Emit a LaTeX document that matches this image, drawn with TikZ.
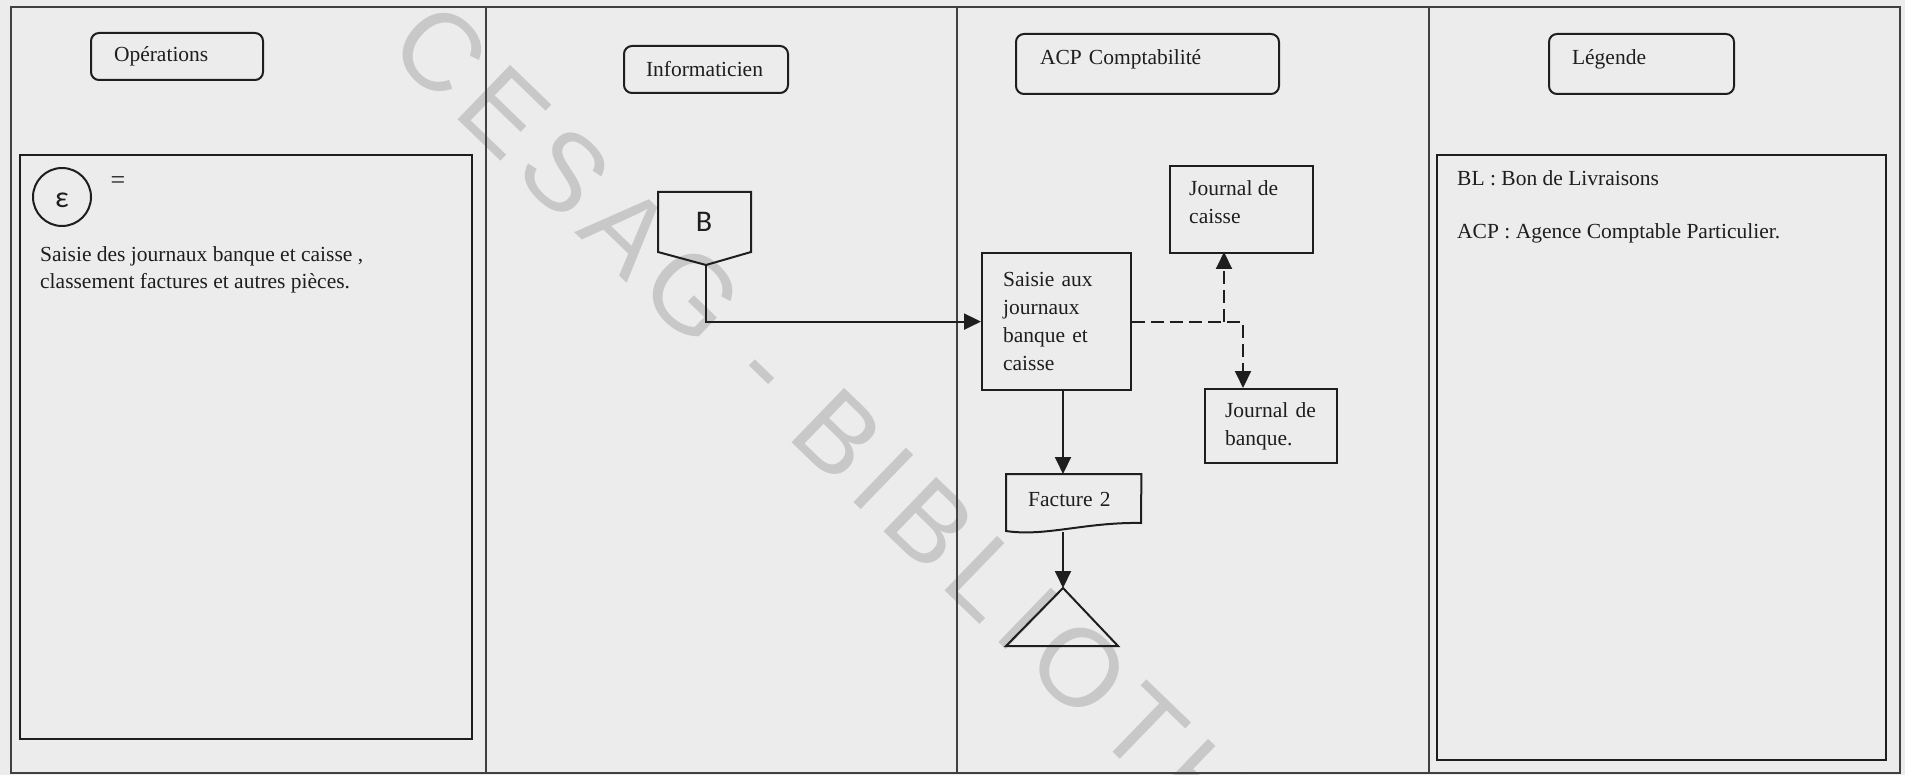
\documentclass[tikz,border=0pt]{standalone}
\usepackage{fontspec}
\setmainfont{Liberation Serif}
\newfontfamily\calfont{Carlito}
\newfontfamily\markfont[LetterSpace=11]{Liberation Sans}
\usetikzlibrary{arrows.meta}

\definecolor{paper}{HTML}{ECECEC}
\definecolor{ink}{HTML}{1E1E1E}
\definecolor{wmark}{HTML}{C8C8C8}

\tikzset{
  txt/.style={font=\fontsize{21.5}{27}\selectfont, text=ink, inner sep=0pt},
  hdr/.style={draw=ink, line width=2pt, rounded corners=8pt, anchor=north west,
    font=\fontsize{21.5}{27}\selectfont, text=ink, align=left, inner ysep=0pt},
  proc/.style={draw=ink, line width=2.2pt, anchor=north west,
    font=\fontsize{21.5}{28}\selectfont, text=ink, align=left, inner ysep=0pt},
  frame/.style={draw=ink!85, line width=1.6pt},
  lanebox/.style={draw=ink, line width=2.2pt},
  arr/.style={draw=ink, line width=2pt, -{Triangle[length=17pt,width=16pt]}},
  dasharr/.style={arr, dash pattern=on 13pt off 6pt},
}

\begin{document}
\begin{tikzpicture}[x=1pt,y=-1pt]
  % page
  \fill[paper] (0,0) rectangle (1905,775);
  \useasboundingbox (0,0) rectangle (1905,775);

  % watermark behind the drawing
  \node[anchor=west, rotate=-44, inner sep=0pt, text=wmark,
    font=\markfont\fontsize{110}{110}\selectfont] (wm) at (405,30) {CESAG - BIBLIOTHEQUE};

  % swimlane frame
  \draw[frame] (11,7) rectangle (1900,773);
  \foreach \xx in {486,957,1429} \draw[frame, line width=1.3pt] (\xx,7) -- (\xx,773);

  % lane headers
  \node[hdr, minimum width=172pt, minimum height=47pt, text width=126pt, inner xsep=23pt]
    (hops) at (90,32) {Opérations};
  \node[hdr, minimum width=164pt, minimum height=47pt, text width=120pt, inner xsep=22pt]
    (hinfo) at (623,45) {Informaticien};
  \node[hdr, minimum width=263pt, minimum height=60pt, text width=215pt, inner xsep=24pt,
    text depth=14pt] (hacp) at (1015,33) {ACP Comptabilité};
  \node[hdr, minimum width=185pt, minimum height=60pt, text width=139pt, inner xsep=23pt,
    text depth=14pt] (hleg) at (1548,33) {Légende};

  % operations lane
  \draw[lanebox] (20,155) rectangle (472,739);
  \node[draw=ink, line width=2pt, circle, minimum size=58pt, inner sep=0pt]
    (eps) at (62,197) {};
  \node[txt, font=\calfont\fontsize{30}{30}\selectfont] (epsglyph) at (62,200) {ε};
  \node[txt, font=\fontsize{26}{26}\selectfont] (eq) at (118,183) {=};
  \node[txt, anchor=north west, align=left] (opdesc) at (40,246)
    {Saisie des journaux banque et caisse ,\\classement factures et autres pièces.};

  % informaticien lane: off-page connector B
  \draw[draw=ink, line width=2pt] (658,192) -- (751,192) -- (751,252) -- (706,265)
    -- (658,252) -- cycle;
  \node[txt, font=\calfont\fontsize{30}{30}\selectfont] (B) at (704,222) {B};
  \coordinate (Bout) at (706,265);

  % comptabilite lane
  \node[proc, minimum width=149pt, minimum height=137pt, text width=107pt, inner xsep=21pt]
    (saisie) at (981,252) {Saisie aux\\journaux\\banque et\\caisse};
  \node[proc, minimum width=143pt, minimum height=87pt] (jc) at (1169,165) {};
  \node[txt, anchor=west, align=left, font=\fontsize{21.5}{28}\selectfont]
    (jctxt) at (1189,202) {Journal de\\caisse};
  \node[proc, minimum width=132pt, minimum height=74pt, text width=92pt, inner xsep=20pt]
    (jb) at (1204,388) {Journal de\\banque.};

  % document Facture 2
  \node[txt, anchor=north west, minimum height=50pt, align=left,
    text width=91pt, inner xsep=22pt] (fact) at (1006,474) {Facture 2};
  \draw[draw=ink, line width=2pt] (fact.north west) -- (fact.north east) -- (1141,523)
    .. controls (1085,522) and (1045,537) .. (1006,531) -- cycle;
  \coordinate (factout) at (1063,532);

  % archive triangle
  \coordinate (tri) at (1063,588);
  \draw[draw=ink, line width=2pt] (tri) -- (1118,646) -- (1006,646) -- cycle;

  % connectors
  \coordinate (jcin) at (1224,252);
  \coordinate (jbin) at (1243,388);
  \draw[arr] (Bout) |- (saisie.west);
  \draw[dasharr] (saisie.east) -| (jbin);
  \draw[dasharr] (saisie.east -| jcin) -- (jcin);
  \draw[arr] (saisie.south -| factout) -- (fact.north -| factout);
  \draw[arr] (factout) -- (tri);

  % legend lane
  \draw[lanebox] (1437,155) rectangle (1886,760);
  \node[txt, anchor=west] (bl) at (1457,178) {BL : Bon de Livraisons};
  \node[txt, anchor=west] (acpdef) at (1457,233) {ACP : Agence Comptable Particulier.};
\end{tikzpicture}
\end{document}
